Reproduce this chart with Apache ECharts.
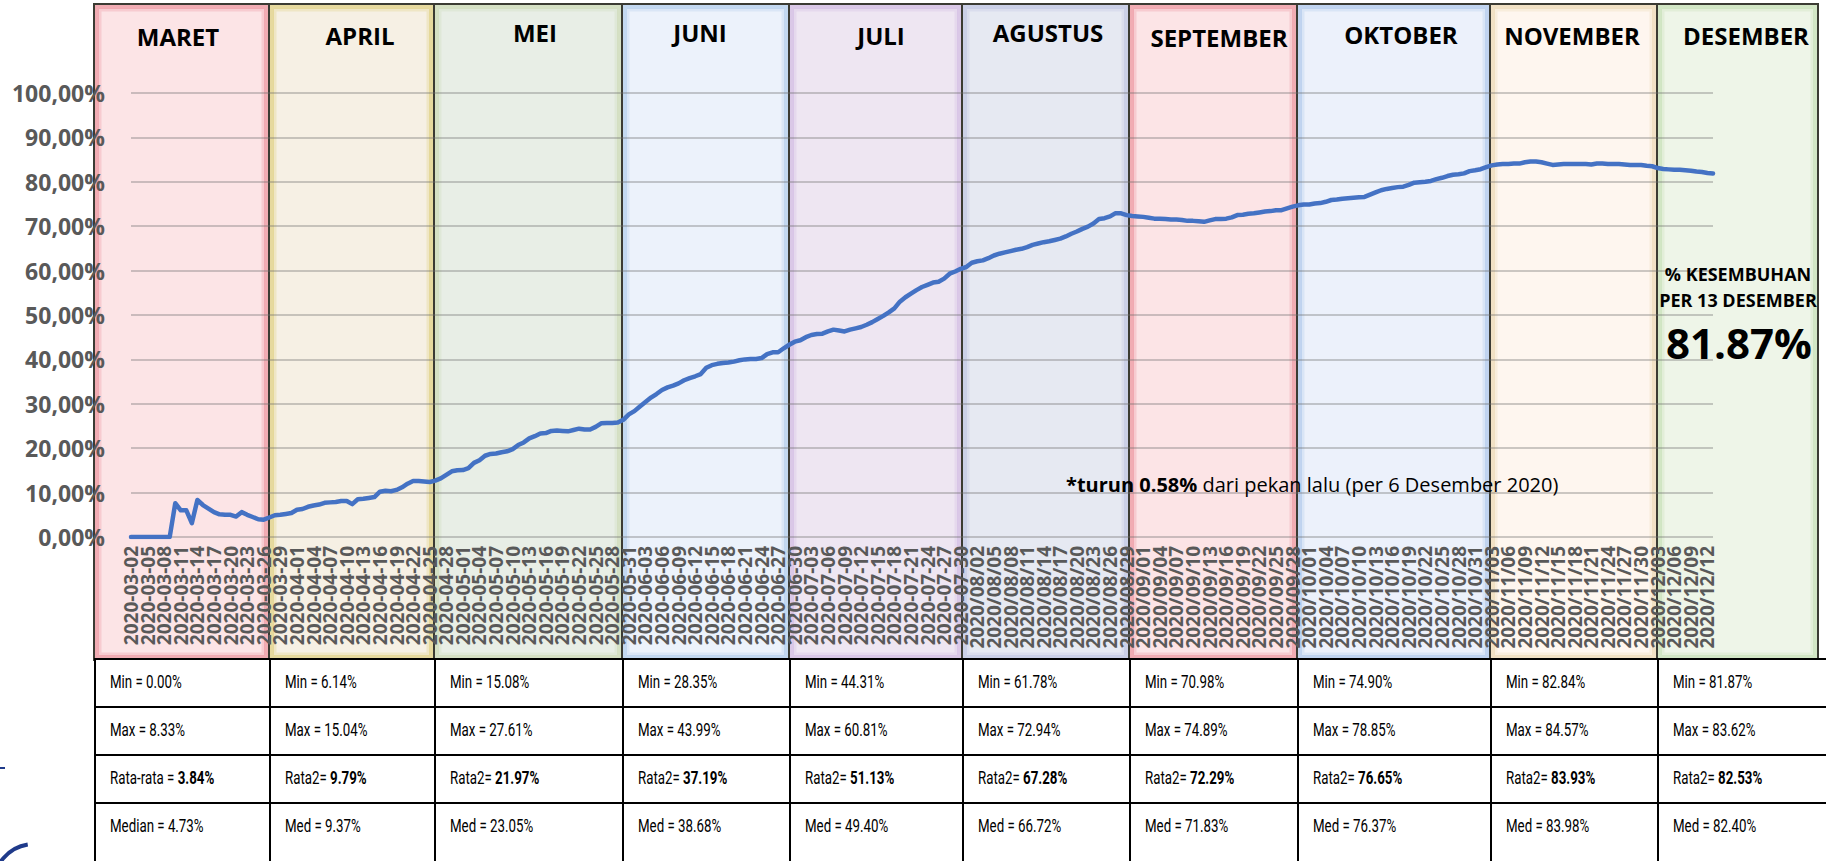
<!DOCTYPE html>
<html>
<head>
<meta charset="utf-8">
<title>Kesembuhan 2020</title>
<script src="https://cdn.jsdelivr.net/npm/echarts/dist/echarts.min.js"></script>
<style>
  html, body { margin: 0; padding: 0; background: #fff; }
  #wrap { position: relative; width: 1826px; height: 861px; overflow: hidden; }
  #chart { position: absolute; left: 0; top: 0; width: 1826px; height: 861px; }
  .cell {
    position: absolute; box-sizing: border-box;
    border-left: 2px solid #000; border-top: 2px solid #000;
    padding-left: 14px; line-height: 44px; white-space: nowrap;
    font-family: Roboto, "Open Sans", sans-serif; font-size: 19px; color: #000;
    background: #fff; overflow: hidden;
  }
  .cell span { display: inline-block; transform: scaleX(0.7); transform-origin: 0 50%; }
</style>
</head>
<body>
<div id="wrap">
  <div id="chart"></div>
  <div id="stats"></div>
</div>
<script>
// bulan
var months = ['MARET', 'APRIL', 'MEI', 'JUNI', 'JULI', 'AGUSTUS', 'SEPTEMBER', 'OKTOBER', 'NOVEMBER', 'DESEMBER'];

// persentase kesembuhan harian (2 Maret - 13 Desember 2020)
var recMar = [0, 0, 0, 0, 0, 0, 0, 0, 7.6, 6.0, 6.0, 3.1, 8.33, 7.2, 6.4, 5.6, 5.1, 5.0, 5.0, 4.6,
              5.6, 5.0, 4.5, 4.0, 3.9, 4.4, 4.9, 5.0, 5.2, 5.4];
var recApr = [6.14, 6.3, 6.8, 7.1, 7.3, 7.7, 7.8, 7.9, 8.1, 8.1, 7.4, 8.5, 8.6, 8.8, 9.0, 10.2, 10.4, 10.3, 10.6, 11.2,
              12.0, 12.6, 12.6, 12.5, 12.4, 12.7, 13.2, 14.0, 14.8, 15.04];
var recMei = [15.08, 15.5, 16.7, 17.3, 18.3, 18.7, 18.8, 19.1, 19.3, 19.8, 20.7, 21.3, 22.2, 22.7, 23.3, 23.4,
              23.9, 24.0, 23.9, 23.8, 24.1, 24.4, 24.2, 24.2, 24.8, 25.6, 25.7, 25.7, 25.8, 26.4, 27.61];
var recJun = [28.35, 29.4, 30.4, 31.4, 32.2, 33.1, 33.7, 34.1, 34.6, 35.3, 35.8, 36.2, 36.7, 38.1, 38.7, 39.0,
              39.2, 39.3, 39.5, 39.8, 40.0, 40.1, 40.1, 40.3, 41.2, 41.6, 41.6, 42.5, 43.3, 43.99];
var recJul = [44.31, 45.0, 45.5, 45.7, 45.8, 46.3, 46.7, 46.5, 46.3, 46.7, 47.0, 47.3, 47.8, 48.4, 49.1, 49.8,
              50.6, 51.5, 53.0, 54.0, 54.8, 55.6, 56.3, 56.8, 57.3, 57.5, 58.2, 59.3, 59.8, 60.4, 60.81];
var recAgu = [61.78, 62.1, 62.3, 62.8, 63.4, 63.8, 64.1, 64.4, 64.7, 64.9, 65.3, 65.8, 66.1, 66.4, 66.6, 66.9,
              67.2, 67.7, 68.3, 68.8, 69.4, 69.9, 70.6, 71.6, 71.8, 72.2, 72.94, 72.9, 72.5, 72.3, 72.2];
var recSep = [72.1, 71.9, 71.7, 71.7, 71.6, 71.5, 71.5, 71.4, 71.2, 71.2, 71.1, 70.98, 71.3, 71.6, 71.6, 71.7,
              72.0, 72.5, 72.6, 72.8, 72.9, 73.1, 73.3, 73.4, 73.6, 73.6, 74.0, 74.4, 74.7, 74.89];
var recOkt = [74.9, 75.1, 75.2, 75.5, 75.9, 76.0, 76.2, 76.3, 76.4, 76.5, 76.6, 77.1, 77.6, 78.1, 78.4, 78.6,
              78.8, 78.9, 79.3, 79.8, 79.9, 80.0, 80.2, 80.6, 80.9, 81.3, 81.6, 81.7, 81.9, 82.4, 82.6];
var recNov = [82.84, 83.3, 83.7, 83.9, 84.0, 84.0, 84.1, 84.1, 84.4, 84.57, 84.55, 84.4, 84.1, 83.8, 83.9, 84.0,
              84.0, 84.0, 84.0, 84.0, 83.9, 84.1, 84.1, 84.0, 84.0, 84.0, 83.9, 83.8, 83.8, 83.8];
var recDes = [83.62, 83.5, 83.1, 82.9, 82.8, 82.7, 82.7, 82.6, 82.5, 82.3, 82.2, 82.0, 81.87];

var recovery = [].concat(recMar, recApr, recMei, recJun, recJul, recAgu, recSep, recOkt, recNov, recDes);

// statistik per bulan (tabel bawah)
var minVals = ['0.00%', '6.14%', '15.08%', '28.35%', '44.31%', '61.78%', '70.98%', '74.90%', '82.84%', '81.87%'];
var maxVals = ['8.33%', '15.04%', '27.61%', '43.99%', '60.81%', '72.94%', '74.89%', '78.85%', '84.57%', '83.62%'];
var avgVals = ['3.84%', '9.79%', '21.97%', '37.19%', '51.13%', '67.28%', '72.29%', '76.65%', '83.93%', '82.53%'];
var medVals = ['4.73%', '9.37%', '23.05%', '38.68%', '49.40%', '66.72%', '71.83%', '76.37%', '83.98%', '82.40%'];

// label tanggal sumbu x
var dates = [];
var start = Date.UTC(2020, 2, 2);
for (var i = 0; i < recovery.length; i++) {
    var d = new Date(start + i * 86400000);
    var mm = ('0' + (d.getUTCMonth() + 1)).slice(-2);
    var dd = ('0' + d.getUTCDate()).slice(-2);
    dates.push(d.getUTCMonth() >= 7 ? '2020/' + mm + '/' + dd : '2020-' + mm + '-' + dd);
}

// tata letak panel bulan (px)
var bandEdges = [94, 269, 434, 622, 789, 962, 1129, 1297, 1490, 1657, 1818];
var bandFill = ['#fce4e6', '#f6f0e4', '#e8eee6', '#ecf2fb', '#eee6f2', '#e6e9f2', '#fce4e6', '#ecf1fb', '#fef6ef', '#eef5e8'];
var bandGlow = ['#ee9ea6', '#e2d38c', '#cfdcbc', '#b9d1ee', '#d5c0e4', '#c4c9e4', '#ee9ea6', '#b6cdee', '#eedcba', '#cbe2bb'];
var titlePos = [[178, 36], [360, 35], [535, 32], [700, 32], [881, 35], [1048, 32], [1219, 37], [1401, 34], [1572, 35], [1746, 35]];

var graphics = [];
months.forEach(function (m, i) {
    var x0 = bandEdges[i], w = bandEdges[i + 1] - x0;
    graphics.push({
        type: 'rect', z: 1,
        shape: { x: x0, y: 4, width: w, height: 656 },
        style: { fill: bandFill[i], stroke: '#3b3b33', lineWidth: 2 }
    });
    graphics.push({
        type: 'rect', z: 1,
        shape: { x: x0 + 3, y: 7, width: w - 6, height: 650 },
        style: { fill: null, stroke: bandGlow[i], lineWidth: 4, opacity: 0.8 }
    });
    graphics.push({
        type: 'rect', z: 1,
        shape: { x: x0 + 6, y: 10, width: w - 12, height: 644 },
        style: { fill: null, stroke: bandGlow[i], lineWidth: 3, opacity: 0.35 }
    });
    graphics.push({
        type: 'text', z: 10,
        style: {
            text: m, x: titlePos[i][0], y: titlePos[i][1],
            textAlign: 'center', textVerticalAlign: 'middle',
            fontSize: 24, fontWeight: 'bold', fontFamily: 'Open Sans', fill: '#000'
        }
    });
});

graphics.push({
    type: 'text', z: 10,
    style: {
        text: '{b|*turun 0.58%} dari pekan lalu (per 6 Desember 2020)',
        x: 1066, y: 484, textVerticalAlign: 'middle',
        fontSize: 20, fontFamily: 'Open Sans', fill: '#000',
        rich: { b: { fontSize: 20, fontFamily: 'Open Sans', fontWeight: 'bold', fill: '#000' } }
    }
});
graphics.push({
    type: 'text', z: 10,
    style: { text: '% KESEMBUHAN', x: 1738, y: 274, textAlign: 'center', textVerticalAlign: 'middle',
             fontSize: 18, fontWeight: 'bold', fontFamily: 'Open Sans', fill: '#000' }
});
graphics.push({
    type: 'text', z: 10,
    style: { text: 'PER 13 DESEMBER', x: 1738, y: 300, textAlign: 'center', textVerticalAlign: 'middle',
             fontSize: 18, fontWeight: 'bold', fontFamily: 'Open Sans', fill: '#000' }
});
graphics.push({
    type: 'text', z: 10,
    style: { text: '81.87%', x: 1739, y: 342, textAlign: 'center', textVerticalAlign: 'middle',
             fontSize: 42, fontWeight: 'bold', fontFamily: 'Open Sans', fill: '#000' }
});

// sisa logo di pojok kiri bawah
graphics.push({
    type: 'line', z: 10,
    shape: { x1: 0, y1: 768, x2: 5, y2: 768 },
    style: { stroke: '#1f3a8a', lineWidth: 2 }
});
graphics.push({
    type: 'arc', z: 10,
    shape: { cx: 34, cy: 884, r: 40, startAngle: Math.PI, endAngle: Math.PI * 1.45 },
    style: { stroke: '#1f3a8a', lineWidth: 4, fill: null }
});

var chart = echarts.init(document.getElementById('chart'), null, { renderer: 'svg' });

var option = {
    animation: false,
    grid: { left: 131, right: 113, top: 93, bottom: 324 },
    xAxis: {
        type: 'category',
        data: dates,
        boundaryGap: false,
        z: 3,
        axisLine: { show: false },
        axisTick: { show: false },
        splitLine: { show: false },
        axisLabel: {
            // semua kategori diberi label, tapi hanya tiap 3 hari yang berisi teks
            interval: 0,
            formatter: function (value, index) { return index % 3 === 0 ? value : ''; },
            rotate: 90, margin: 9, hideOverlap: false,
            color: '#595959', fontWeight: 'bold', fontSize: 19, fontFamily: 'Open Sans'
        }
    },
    yAxis: {
        type: 'value',
        min: 0, max: 100, interval: 10,
        z: 3,
        axisLine: { show: false },
        axisTick: { show: false },
        axisLabel: {
            margin: 26, color: '#595959', fontWeight: 'bold', fontSize: 23, fontFamily: 'Open Sans',
            formatter: function (v) { return v + ',00%'; }
        },
        splitLine: { lineStyle: { color: 'rgba(110,110,110,0.35)', width: 2 } }
    },
    series: [{
        name: 'Kesembuhan',
        type: 'line',
        data: recovery,
        z: 4,
        showSymbol: false,
        lineStyle: { color: '#4472c4', width: 4.5, cap: 'round', join: 'round' }
    }],
    graphic: graphics
};

chart.setOption(option);

// tabel statistik
var rowTops = [658, 706, 754, 802];
var rowH = [48, 48, 48, 70];
var html = '';
months.forEach(function (m, i) {
    var left = bandEdges[i];
    var right = i === months.length - 1 ? 1830 : bandEdges[i + 1];
    var rows = [
        'Min = ' + minVals[i],
        'Max = ' + maxVals[i],
        (i === 0 ? 'Rata-rata = ' : 'Rata2= ') + '<b>' + avgVals[i] + '</b>',
        (i === 0 ? 'Median = ' : 'Med = ') + medVals[i]
    ];
    rows.forEach(function (t, r) {
        html += '<div class="cell" style="left:' + left + 'px;top:' + rowTops[r] + 'px;width:' + (right - left + 2) +
                'px;height:' + rowH[r] + 'px"><span>' + t + '</span></div>';
    });
});
document.getElementById('stats').innerHTML = html;
</script>
</body>
</html>
